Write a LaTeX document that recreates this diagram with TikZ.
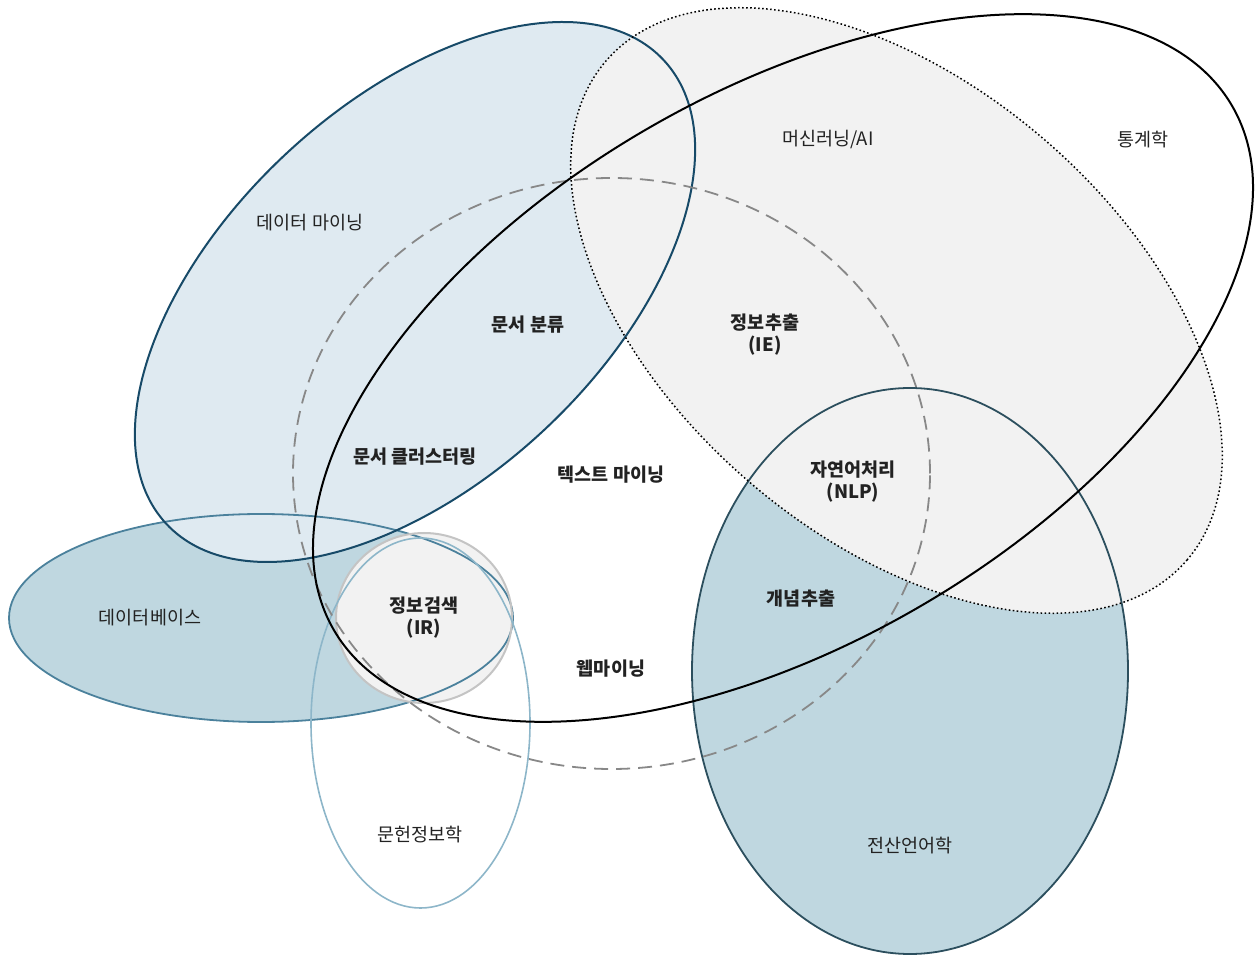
\documentclass[tikz,border=0pt]{standalone}
\usepackage{fontspec}
\setmainfont{Noto Sans CJK KR}
\usetikzlibrary{positioning}
\definecolor{dmfill}{HTML}{DFEAF1}
\definecolor{dmline}{HTML}{174A68}
\definecolor{dbfill}{HTML}{BFD7E0}
\definecolor{dbline}{HTML}{4B819C}
\definecolor{clline}{HTML}{2C4F5E}
\definecolor{mlfill}{HTML}{F2F2F2}
\definecolor{irline}{HTML}{C4C4C4}
\definecolor{lisline}{HTML}{8DB6C9}
\definecolor{tmline}{HTML}{888888}
\definecolor{ink}{HTML}{222222}
\tikzset{
  field/.style={font=\fontsize{18.5}{22}\selectfont, text=ink, align=center},
  core/.style={field, font=\fontsize{18.5}{22}\selectfont\bfseries},
}
\begin{document}
\begin{tikzpicture}[x=1pt,y=1pt]
\useasboundingbox (0,0) rectangle (1257,956);
% centres of the fields
\coordinate (dm) at (415,664);
\coordinate (ml) at (896.5,645.5);
\coordinate (st) at (783,588);
\coordinate (tm) at (611.5,482.5);
\coordinate (db) at (261,338);
\coordinate (ir) at (424,338);
\coordinate (lis) at (420.5,233);
\coordinate (cl) at (910,285);

% fills, back to front
\fill[dbfill] (db) ellipse [x radius=252pt, y radius=104pt];
\fill[dmfill, rotate around={43:(dm)}] (dm) ellipse [x radius=340pt, y radius=189pt];
\fill[dbfill] (cl) ellipse [x radius=218pt, y radius=283pt];
\fill[mlfill, rotate around={-40.65:(ml)}] (ml) ellipse [x radius=383pt, y radius=226pt];
\fill[mlfill] (ir) ellipse [x radius=88pt, y radius=85pt];

% outlines
\draw[dbline, line width=1.8pt] (db) ellipse [x radius=252pt, y radius=104pt];
\draw[dmline, line width=2pt, rotate around={43:(dm)}] (dm) ellipse [x radius=340pt, y radius=189pt];
\draw[clline, line width=1.8pt] (cl) ellipse [x radius=218pt, y radius=283pt];
\draw[black, line width=1.5pt, dash pattern=on 1.6pt off 2.4pt, rotate around={-40.65:(ml)}] (ml) ellipse [x radius=383pt, y radius=226pt];
\draw[irline, line width=2pt] (ir) ellipse [x radius=88pt, y radius=85pt];
\draw[lisline, line width=1.6pt] (lis) ellipse [x radius=109.5pt, y radius=185pt];
\draw[tmline, line width=1.8pt, dash pattern=on 14pt off 8pt] (tm) ellipse [x radius=318.5pt, y radius=295.5pt];
\draw[black, line width=2pt, rotate around={30.3:(st)}] (st) ellipse [x radius=520pt, y radius=275pt];

% field names
\node[field] (tdm) at (310,733) {데이터 마이닝};
\node[field] (tml) at (828,816) {머신러닝/AI};
\node[field] (tst) at (1143,816) {통계학};
\node[field] (tdb) at (150,338) {데이터베이스};
\node[field] (tlis) at (420,121) {문헌정보학};
\node[field] (tcl) at (910,110) {전산언어학};

% tasks in the overlaps
\node[core] (tdc) at (528,631) {문서 분류};
\node[core] (tie) at (765,621) {정보추출\\(IE)};
\node[core] (tclu) at (415,499) {문서 클러스터링};
\node[core] (ttm) at (611,481) {텍스트 마이닝};
\node[core] (tnlp) at (853,474) {자연어처리\\(NLP)};
\node[core] (tir) at (424,338) {정보검색\\(IR)};
\node[core] (tce) at (801,357) {개념추출};
\node[core] (twm) at (611,287) {웹마이닝};
\end{tikzpicture}
\end{document}
